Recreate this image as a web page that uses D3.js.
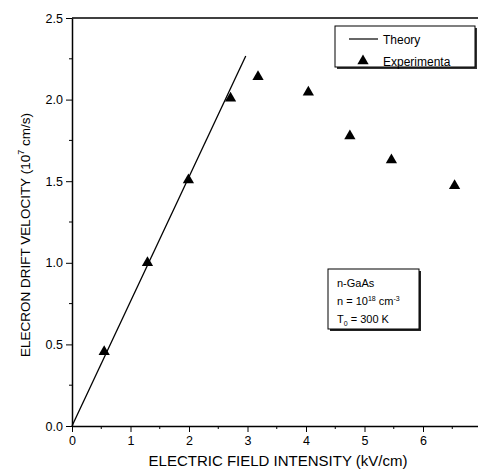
<!DOCTYPE html>
<html>
<head>
<meta charset="utf-8">
<script src="https://cdn.jsdelivr.net/npm/d3@7"></script>
<style>
  body { margin: 0; background: #fff; }
  text { font-family: "Liberation Sans", Arial, sans-serif; fill: #000; }
</style>
</head>
<body>
<script>
// data
var expField = [0.55, 1.29, 1.99, 2.71, 3.18, 4.04, 4.75, 5.46, 6.54];
var expVelocity = [0.455, 1.0, 1.507, 2.008, 2.14, 2.045, 1.777, 1.63, 1.472];
var theoryField = [0, 2.97];
var theoryVelocity = [0, 2.267];
var xTicks = [0, 1, 2, 3, 4, 5, 6];
var yTicks = [0.0, 0.5, 1.0, 1.5, 2.0, 2.5];

var w = 478, h = 472;

var xScale = d3.scaleLinear().domain([0, 7]).range([72, 481.5]);
var yScale = d3.scaleLinear().domain([0, 2.5]).range([426, 18]);

var svg = d3.select("body").append("svg")
  .attr("width", w).attr("height", h);

// axes
var xAxis = d3.axisBottom(xScale).tickValues(xTicks).tickFormat(d3.format("d"))
  .tickSizeInner(6).tickSizeOuter(0).tickPadding(4);
var yAxis = d3.axisLeft(yScale).tickValues(yTicks).tickFormat(d3.format(".1f"))
  .tickSizeInner(6).tickSizeOuter(0).tickPadding(3);

var gx = svg.append("g").attr("transform", "translate(0," + yScale(0) + ")").call(xAxis);
var gy = svg.append("g").attr("transform", "translate(" + xScale(0) + ",0)").call(yAxis);

// minor ticks
gx.append("g").selectAll("line")
  .data(d3.range(0.5, 7, 1))
  .enter().append("line")
  .attr("x1", function(d) { return xScale(d); }).attr("x2", function(d) { return xScale(d); })
  .attr("y1", 0).attr("y2", 3).attr("stroke", "#000");
gy.append("g").selectAll("line")
  .data(d3.range(0.25, 2.5, 0.5))
  .enter().append("line")
  .attr("y1", function(d) { return yScale(d); }).attr("y2", function(d) { return yScale(d); })
  .attr("x1", 0).attr("x2", -3).attr("stroke", "#000");

svg.selectAll(".domain").attr("stroke", "#000").attr("stroke-width", 1.5);
svg.selectAll(".tick line").attr("stroke", "#000");
svg.selectAll(".tick text").style("font-size", "12.5px").style("font-family", "Liberation Sans, Arial, sans-serif").attr("fill", "#000");

// top frame line
svg.append("line")
  .attr("x1", xScale(0)).attr("x2", xScale(7))
  .attr("y1", yScale(2.5)).attr("y2", yScale(2.5))
  .attr("stroke", "#000").attr("stroke-width", 1.5);

// theory line
var line = d3.line()
  .x(function(d) { return xScale(d[0]); })
  .y(function(d) { return yScale(d[1]); });
svg.append("path")
  .datum(d3.zip(theoryField, theoryVelocity))
  .attr("d", line)
  .attr("fill", "none").attr("stroke", "#000").attr("stroke-width", 1.3);

// experimental points
var tri = d3.symbol().type(d3.symbolTriangle).size(55);
svg.selectAll(".pt")
  .data(d3.zip(expField, expVelocity))
  .enter().append("path")
  .attr("class", "pt")
  .attr("d", tri)
  .attr("transform", function(d) { return "translate(" + xScale(d[0]) + "," + yScale(d[1]) + ")"; })
  .attr("fill", "#000");

// legend box
var lg = svg.append("g");
lg.append("rect").attr("x", 337).attr("y", 28).attr("width", 140).attr("height", 41)
  .attr("fill", "#333");
lg.append("rect").attr("x", 335).attr("y", 26).attr("width", 140).attr("height", 41)
  .attr("fill", "#fff").attr("stroke", "#000").attr("stroke-width", 1);
lg.append("line").attr("x1", 349).attr("x2", 378).attr("y1", 39).attr("y2", 39)
  .attr("stroke", "#000").attr("stroke-width", 1.2);
lg.append("text").attr("x", 383).attr("y", 43.5).style("font-size", "12px").text("Theory");
lg.append("path").attr("d", tri).attr("transform", "translate(363,61)").attr("fill", "#000");
lg.append("text").attr("x", 383).attr("y", 65.5).style("font-size", "12px").text("Experimenta");

// annotation box
var ann = svg.append("g");
ann.append("rect").attr("x", 330).attr("y", 271).attr("width", 91).attr("height", 60).attr("fill", "#222");
ann.append("rect").attr("x", 328).attr("y", 269).attr("width", 91).attr("height", 60)
  .attr("fill", "#fff").attr("stroke", "#000").attr("stroke-width", 1);
ann.append("text").attr("x", 337).attr("y", 287).style("font-size", "11px").text("n-GaAs");
var t2 = ann.append("text").attr("x", 337).attr("y", 305).style("font-size", "11px");
t2.append("tspan").text("n = 10");
t2.append("tspan").attr("dy", -4).style("font-size", "7px").text("18");
t2.append("tspan").attr("dy", 4).text(" cm");
t2.append("tspan").attr("dy", -4).style("font-size", "7px").text("-3");
var t3 = ann.append("text").attr("x", 337).attr("y", 323).style("font-size", "11px");
t3.append("tspan").text("T");
t3.append("tspan").attr("dy", 3).style("font-size", "7px").text("0");
t3.append("tspan").attr("dy", -3).text(" = 300 K");

// axis titles
svg.append("text")
  .attr("x", 278).attr("y", 466)
  .attr("text-anchor", "middle")
  .style("font-size", "15px")
  .text("ELECTRIC FIELD INTENSITY (kV/cm)");

var yt = svg.append("text")
  .attr("transform", "translate(30,235) rotate(-90)")
  .attr("text-anchor", "middle")
  .style("font-size", "13.5px");
yt.append("tspan").text("ELECRON DRIFT VELOCITY (10");
yt.append("tspan").attr("dy", -6).style("font-size", "9px").text("7");
yt.append("tspan").attr("dy", 6).text(" cm/s)");
</script>
</body>
</html>
